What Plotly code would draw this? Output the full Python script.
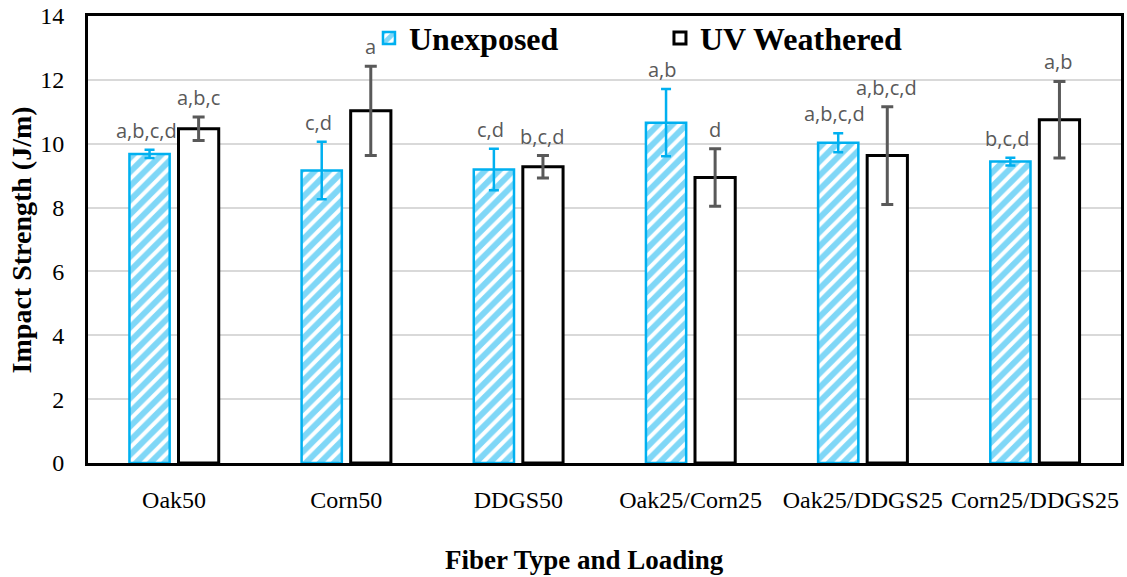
import plotly.graph_objects as go

# Fiber type / loading groups
categories = ["Oak50", "Corn50", "DDGS50", "Oak25/Corn25", "Oak25/DDGS25", "Corn25/DDGS25"]

# Mean impact strength (J/m) and standard deviations
unexposed = [9.68, 9.16, 9.19, 10.66, 10.03, 9.44]
unexposed_sd = [0.13, 0.90, 0.65, 1.05, 0.30, 0.12]
uv_weathered = [10.47, 11.03, 9.28, 8.94, 9.63, 10.75]
uv_weathered_sd = [0.37, 1.40, 0.35, 0.90, 1.53, 1.20]

# Statistical grouping letters
unexposed_groups = ["a,b,c,d", "c,d", "c,d", "a,b", "a,b,c,d", "b,c,d"]
uv_weathered_groups = ["a,b,c", "a", "b,c,d", "d", "a,b,c,d", "a,b"]

y_ticks = [0, 2, 4, 6, 8, 10, 12, 14]

BLUE = "#00B0F0"
LABEL_GREY = "#595959"
SERIF = "Liberation Serif"
SANS = "Open Sans"

fig = go.Figure()

fig.add_trace(go.Bar(
    name="<b>Unexposed</b>",
    x=categories,
    y=unexposed,
    error_y=dict(type="data", array=unexposed_sd, visible=True,
                 color=BLUE, thickness=2.5, width=5),
    marker=dict(
        color="white",
        line=dict(color=BLUE, width=2.5),
        pattern=dict(shape="/", fgcolor=BLUE, bgcolor="white",
                     size=10, solidity=0.6),
    ),
))

fig.add_trace(go.Bar(
    name="<b>UV Weathered</b>",
    x=categories,
    y=uv_weathered,
    error_y=dict(type="data", array=uv_weathered_sd, visible=True,
                 color=LABEL_GREY, thickness=3, width=6),
    marker=dict(color="white", line=dict(color="black", width=3)),
))

# Group letters above each error bar
annotations = []
for i, cat in enumerate(categories):
    for val, sd, txt, dx in (
        (unexposed[i], unexposed_sd[i], unexposed_groups[i], -28),
        (uv_weathered[i], uv_weathered_sd[i], uv_weathered_groups[i], 24),
    ):
        annotations.append(dict(
            x=i, y=val + sd, xref="x", yref="y",
            xshift=dx, yshift=4,
            text=txt, showarrow=False,
            xanchor="center", yanchor="bottom",
            font=dict(family=SANS, size=20, color=LABEL_GREY),
        ))

annotations.append(dict(
    text="<b>Impact Strength (J/m)</b>", textangle=-90,
    x=-0.064, y=0.5, xref="paper", yref="paper",
    xanchor="center", yanchor="middle", showarrow=False,
    font=dict(family=SERIF, size=28, color="black"),
))
annotations.append(dict(
    text="<b>Fiber Type and Loading</b>",
    x=(586 - 88) / 1036, y=-0.217, xref="paper", yref="paper",
    xanchor="center", yanchor="middle", showarrow=False,
    font=dict(family=SERIF, size=27, color="black"),
))

fig.update_layout(
    width=1127, height=577,
    margin=dict(l=88, r=3, t=15, b=114),
    paper_bgcolor="white", plot_bgcolor="white",
    barmode="group", bargap=0.43, bargroupgap=0.18,
    showlegend=True,
    legend=dict(
        orientation="h", x=0.272, y=1.012, xanchor="left", yanchor="top",
        font=dict(family=SERIF, size=32, color="black"),
        bgcolor="rgba(0,0,0,0)", entrywidth=246, entrywidthmode="pixels",
    ),
    annotations=annotations,
)

fig.update_xaxes(
    type="category",
    showline=True, linecolor="black", linewidth=3, mirror=True,
    showgrid=False, ticks="",
    tickfont=dict(family=SERIF, size=24, color="black"),
    ticklabelstandoff=13,
)
fig.update_yaxes(
    range=[0, 14], tickvals=y_ticks,
    showline=True, linecolor="black", linewidth=3, mirror=True,
    showgrid=True, gridcolor="#D9D9D9", gridwidth=1.5,
    zeroline=False, ticks="",
    tickfont=dict(family=SERIF, size=24, color="black"),
    ticklabelstandoff=16,
)

fig.write_html("out.html")
